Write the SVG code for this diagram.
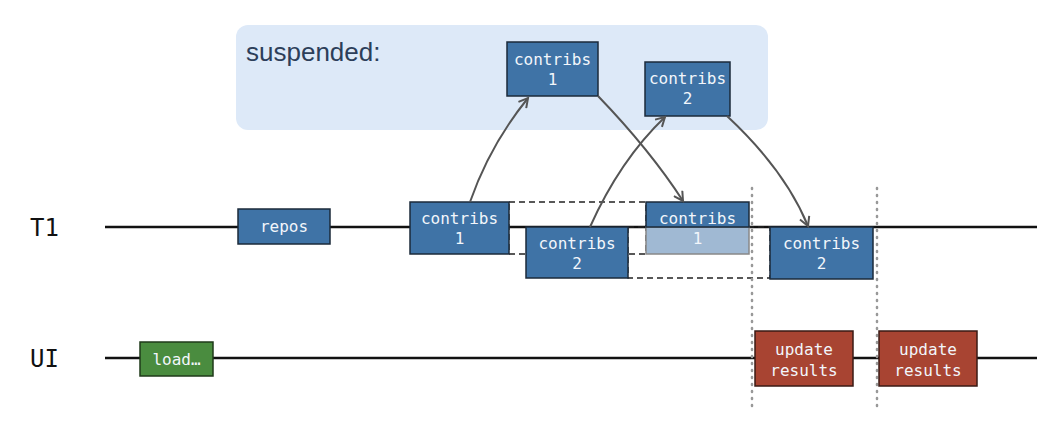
<svg xmlns="http://www.w3.org/2000/svg" width="1037" height="422" viewBox="0 0 1037 422">
<style>
.box{fill:#3f73a6;stroke:#1b2a3a;stroke-width:1.5}
.t{font-family:"DejaVu Sans Mono",monospace;font-size:16px;fill:#f2f6fb;text-anchor:middle}
.lane{font-family:"DejaVu Sans Mono",monospace;font-size:24px;fill:#111}
.ln{stroke:#111;stroke-width:2.5}
.arr{fill:none;stroke:#555;stroke-width:2;marker-end:url(#ah)}
.dash{fill:none;stroke:#222;stroke-width:1.3;stroke-dasharray:6 4}
.dot{stroke:#999;stroke-width:2.5;stroke-dasharray:1 6;stroke-linecap:round}
</style>
<defs><marker id="ah" markerWidth="12" markerHeight="12" refX="10" refY="6" orient="auto" markerUnits="userSpaceOnUse"><path d="M1,1 L10,6 L1,11" fill="none" stroke="#555" stroke-width="2"/></marker></defs>
<rect width="1037" height="422" fill="#fff"/>
<rect x="236" y="25" width="532" height="105" rx="12" fill="#dde9f8"/>
<text x="246" y="61" font-family="Liberation Sans,sans-serif" font-size="26" fill="#2c3e5a">suspended:</text>
<line class="ln" x1="105" y1="227" x2="1037" y2="227"/>
<line class="ln" x1="105" y1="358" x2="1037" y2="358"/>
<text class="lane" x="30" y="236">T1</text>
<text class="lane" x="30" y="367">UI</text>
<g id="dashes">
<rect class="dash" x="509" y="202" width="137" height="52"/>
<rect class="dash" x="628" y="227" width="142" height="51"/>
</g>
<line class="dot" x1="752" y1="188" x2="752" y2="408"/>
<line class="dot" x1="877" y1="188" x2="877" y2="408"/>
<g id="repos"><rect class="box" x="238" y="209" width="92" height="35"/><text class="t" x="284" y="232">repos</text></g>
<g id="c1"><rect class="box" x="410" y="202" width="99" height="52"/><text class="t" x="459.5" y="224">contribs</text><text class="t" x="459.5" y="244">1</text></g>
<g id="c2"><rect class="box" x="526" y="227" width="102" height="51"/><text class="t" x="577" y="249">contribs</text><text class="t" x="577" y="269">2</text></g>
<g id="c1faded"><rect x="646" y="227" width="103" height="27" fill="#a0b9d3" stroke="#888" stroke-width="1.5"/><rect class="box" x="646" y="202" width="103" height="25"/><text class="t" x="697.5" y="224">contribs</text><text class="t" x="697.5" y="244">1</text></g>
<g id="c2b"><rect class="box" x="770" y="227" width="103" height="52"/><text class="t" x="821.5" y="249">contribs</text><text class="t" x="821.5" y="269">2</text></g>
<g id="s1"><rect class="box" x="507" y="42" width="91" height="54"/><text class="t" x="552.5" y="65">contribs</text><text class="t" x="552.5" y="85">1</text></g>
<g id="s2"><rect class="box" x="645" y="62" width="85" height="54"/><text class="t" x="687.5" y="84">contribs</text><text class="t" x="687.5" y="104">2</text></g>
<g id="load"><rect x="140" y="342" width="73" height="34" fill="#4a8c3f" stroke="#1f3a1a" stroke-width="1.5"/><text class="t" x="176.5" y="365">load…</text></g>
<g id="u1"><rect x="755" y="331" width="98" height="55" fill="#a84432" stroke="#3a1a14" stroke-width="1.5"/><text class="t" x="804" y="355">update</text><text class="t" x="804" y="376">results</text></g>
<g id="u2"><rect x="879" y="331" width="98" height="55" fill="#a84432" stroke="#3a1a14" stroke-width="1.5"/><text class="t" x="928" y="355">update</text><text class="t" x="928" y="376">results</text></g>
<g id="connectors">
<path class="arr" d="M470,202 Q490,145 528,98"/>
<path class="arr" d="M598,96 Q650,150 683,201"/>
<path class="arr" d="M590,227 Q620,160 665,117"/>
<path class="arr" d="M727,116 Q785,170 808,226"/>
</g>
</svg>
